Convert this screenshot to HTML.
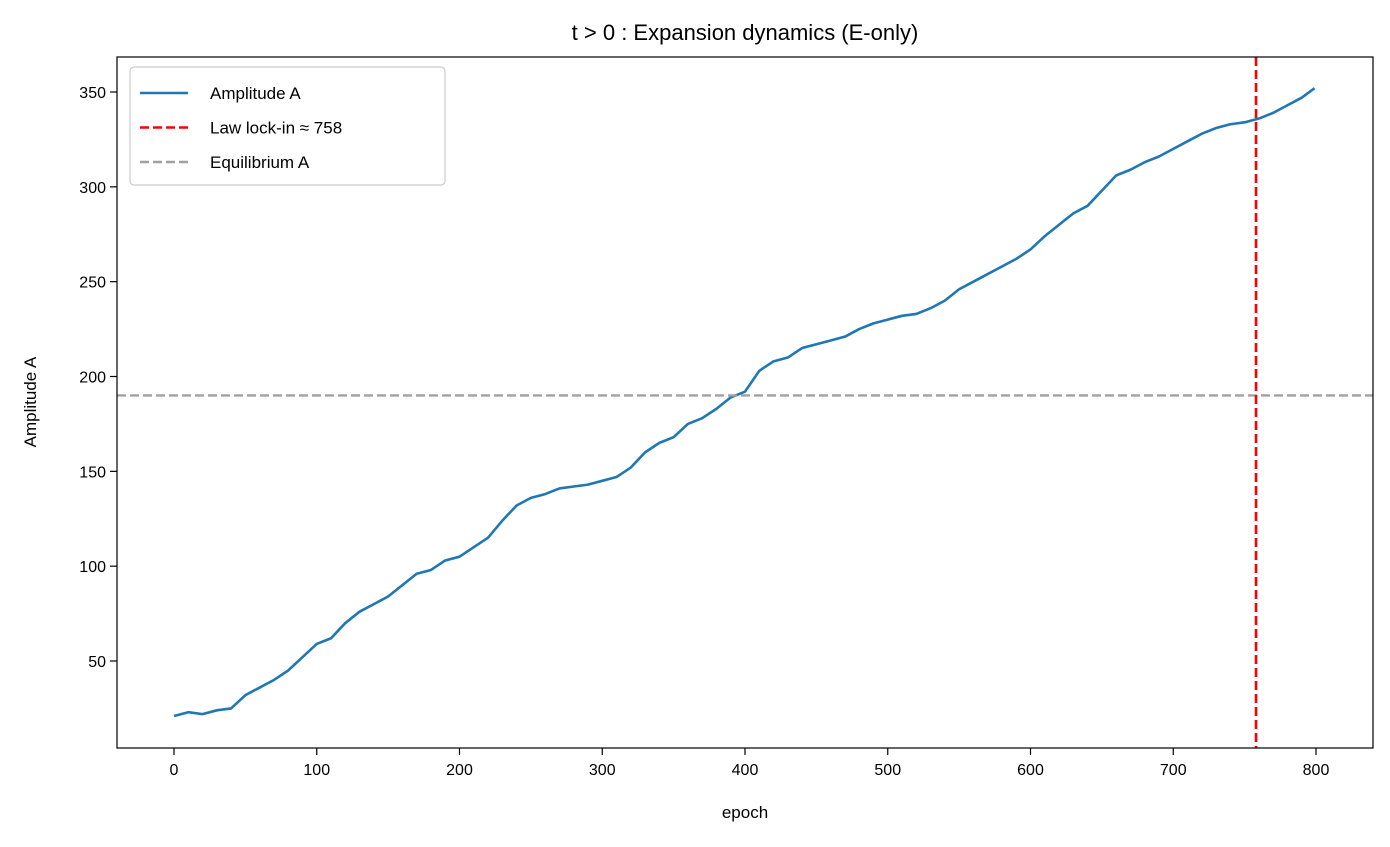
<!DOCTYPE html>
<html><head><meta charset="utf-8"><style>
body{margin:0;background:#fff;}
text{font-family:"Liberation Sans","DejaVu Sans",sans-serif;fill:#000;}
</style></head><body>
<svg id="chart" width="1390" height="842" xmlns="http://www.w3.org/2000/svg">
<text x="745" y="40" font-size="22" text-anchor="middle">t &gt; 0 : Expansion dynamics (E-only)</text>
<g id="plot"></g>
</svg>
<script>
const epochs=[0,10,20,30,40,50,60,70,80,90,100,110,120,130,140,150,160,170,180,190,200,210,220,230,240,250,260,270,280,290,300,310,320,330,340,350,360,370,380,390,400,410,420,430,440,450,460,470,480,490,500,510,520,530,540,550,560,570,580,590,600,610,620,630,640,650,660,670,680,690,700,710,720,730,740,750,760,770,780,790,799];
const amplitude=[21,23,22,24,25,32,36,40,45,52,59,62,70,76,80,84,90,96,98,103,105,110,115,124,132,136,138,141,142,143,145,147,152,160,165,168,175,178,183,189,192,203,208,210,215,217,219,221,225,228,230,232,233,236,240,246,250,254,258,262,267,274,280,286,290,298,306,309,313,316,320,324,328,331,333,334,336,339,343,347,352];
const xTicks=[0,100,200,300,400,500,600,700,800];
const yTicks=[50,100,150,200,250,300,350];
const lockIn=758;
const equilibrium=190;

const L=117,R=1373,T=57,B=748;
const xs=v=>174+v*(1316-174)/800;
const ys=v=>661-(v-50)*(661-92)/300;
const NS="http://www.w3.org/2000/svg";
const g=document.getElementById('plot');
function mk(tag,attrs,parent){const e=document.createElementNS(NS,tag);for(const k in attrs)e.setAttribute(k,attrs[k]);(parent||g).appendChild(e);return e;}

xTicks.forEach(t=>{
  const ln=mk('line',{x1:xs(t),x2:xs(t),y1:B,y2:B+7,stroke:'#000','stroke-width':1.2});
  
  
  const tx=mk('text',{x:xs(t),y:B+27,'font-size':16,'text-anchor':'middle'});
  tx.textContent=t;
  
  
});
yTicks.forEach(t=>{
  const ln=mk('line',{x1:L-7,x2:L,y1:ys(t),y2:ys(t),stroke:'#000','stroke-width':1.2});
  
  
  const tx=mk('text',{x:L-11,y:ys(t)+6,'font-size':16,'text-anchor':'end'});
  tx.textContent=t;
  
  
});

const line=mk('polyline',{points:epochs.map((e,i)=>xs(e)+','+ys(amplitude[i])).join(' '),fill:'none',stroke:'#1f77b4','stroke-width':2.6,'stroke-linejoin':'round'});



const eq=mk('line',{x1:L,x2:R,y1:ys(equilibrium),y2:ys(equilibrium),stroke:'#a0a0a0','stroke-width':2.4,'stroke-dasharray':'9,4'});


const lk=mk('line',{x1:xs(lockIn),x2:xs(lockIn),y1:T,y2:B,stroke:'#ff0000','stroke-width':2.6,'stroke-dasharray':'9,4'});



const fr=mk('rect',{x:L,y:T,width:R-L,height:B-T,fill:'none',stroke:'#000','stroke-width':1.2});



const xl=mk('text',{x:745,y:818,'font-size':17,'text-anchor':'middle'});xl.textContent='epoch';


const yl=mk('text',{x:0,y:0,'font-size':17,'text-anchor':'middle',transform:'translate(36,402) rotate(-90)'});yl.textContent='Amplitude A';



const lg=mk('g',{});


mk('rect',{x:130,y:67,width:315,height:118,rx:4,fill:'#fff','fill-opacity':0.8,stroke:'#ccc','stroke-width':1.2},lg);
const items=[['Amplitude A','#1f77b4',''],['Law lock-in ≈ 758','#ff0000','9,4'],['Equilibrium A','#a0a0a0','9,4']];
items.forEach((it,i)=>{
  const y=93+i*34.5;
  const ent=mk('g',{},lg);
  
  
  const a={x1:140,x2:188,y1:y,y2:y,stroke:it[1],'stroke-width':2.6};
  if(it[2])a['stroke-dasharray']=it[2];
  mk('line',a,ent);
  const t=mk('text',{x:210,y:y+6,'font-size':17},ent);t.textContent=it[0];
});
</script>
</body></html>
